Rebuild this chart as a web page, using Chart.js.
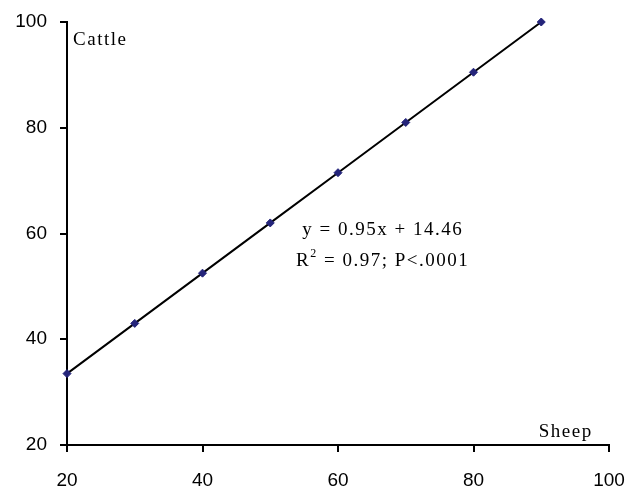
<!DOCTYPE html>
<html>
<head>
<meta charset="utf-8">
<script src="https://cdn.jsdelivr.net/npm/chart.js@4"></script>
<style>
  html, body { margin: 0; padding: 0; background: #ffffff; }
  #wrap { width: 627px; height: 489px; position: relative; }
</style>
</head>
<body>
<div id="wrap"><canvas id="c" width="627" height="489"></canvas></div>
<script>
// ---- data ----
const sheep  = [20, 30, 40, 50, 60, 70, 80, 90];
const cattle = [33.5, 43, 52.5, 62, 71.5, 81, 90.5, 100];
const xTicks = [20, 40, 60, 80, 100];
const yTicks = [20, 40, 60, 80, 100];
const xTitle = "Sheep";
const yTitle = "Cattle";
const eqLine1 = "y = 0.95x + 14.46";
const eqLine2a = "R";
const eqLine2sup = "2";
const eqLine2b = " = 0.97; P<.0001";
// anchors of the annotation texts, in data units
const yTitleAt = [20.9, 95.6];
const xTitleAt = [97.6, 21.6];
const eqAt1 = [66.6, 59.8];
const eqAt2 = [66.6, 53.8];

const points = sheep.map((x, i) => ({ x: x, y: cattle[i] }));

const annotate = {
  id: 'annotate',
  afterDatasetsDraw(chart) {
    const ctx = chart.ctx;
    const xs = chart.scales.x, ys = chart.scales.y;
    const big = '19px "Liberation Serif", "Times New Roman", serif';
    const small = '12px "Liberation Serif", "Times New Roman", serif';
    ctx.save();
    ctx.fillStyle = '#000';
    ctx.font = big;
    ctx.textBaseline = 'alphabetic';
    if ('letterSpacing' in ctx) ctx.letterSpacing = '1.5px';
    ctx.textAlign = 'left';
    ctx.fillText(yTitle, xs.getPixelForValue(yTitleAt[0]), ys.getPixelForValue(yTitleAt[1]));
    ctx.textAlign = 'right';
    ctx.fillText(xTitle, xs.getPixelForValue(xTitleAt[0]), ys.getPixelForValue(xTitleAt[1]));
    ctx.textAlign = 'center';
    ctx.fillText(eqLine1, xs.getPixelForValue(eqAt1[0]), ys.getPixelForValue(eqAt1[1]));
    const cx = xs.getPixelForValue(eqAt2[0]), by = ys.getPixelForValue(eqAt2[1]);
    ctx.textAlign = 'left';
    const wA = ctx.measureText(eqLine2a).width;
    const wB = ctx.measureText(eqLine2b).width;
    ctx.font = small;
    const wS = ctx.measureText(eqLine2sup).width;
    const x0 = cx - (wA + wS + wB) / 2;
    ctx.font = big;
    ctx.fillText(eqLine2a, x0, by);
    ctx.font = small;
    ctx.fillText(eqLine2sup, x0 + wA, by - 9);
    ctx.font = big;
    ctx.fillText(eqLine2b, x0 + wA + wS, by);
    ctx.restore();
  }
};

new Chart(document.getElementById('c'), {
  type: 'scatter',
  data: {
    datasets: [{
      data: points,
      showLine: true,
      borderColor: '#000000',
      borderWidth: 2,
      pointStyle: 'rectRot',
      pointRadius: 4,
      pointBackgroundColor: '#24247a',
      pointBorderColor: '#24247a',
      pointBorderWidth: 1,
      clip: false
    }]
  },
  options: {
    responsive: false,
    animation: false,
    layout: { padding: { left: 0, right: 18, top: 22, bottom: 0 } },
    plugins: { legend: { display: false }, tooltip: { enabled: false } },
    scales: {
      x: {
        type: 'linear',
        min: 20, max: 100,
        afterBuildTicks: (s) => { s.ticks = xTicks.map(v => ({ value: v })); },
        afterFit: (s) => { s.height = 44; s.paddingLeft = 0; s.paddingRight = 0; },
        border: { display: true, color: '#000', width: 2 },
        grid: { display: true, drawOnChartArea: false, drawTicks: true, tickLength: 7, color: '#000', lineWidth: 2 },
        ticks: { color: '#000', padding: 17, maxRotation: 0, font: { family: '"Liberation Sans", Arial, sans-serif', size: 19 } }
      },
      y: {
        type: 'linear',
        min: 20, max: 100,
        afterBuildTicks: (s) => { s.ticks = yTicks.map(v => ({ value: v })); },
        afterFit: (s) => { s.width = 67; s.paddingTop = 0; s.paddingBottom = 0; },
        border: { display: true, color: '#000', width: 2 },
        grid: { display: true, drawOnChartArea: false, drawTicks: true, tickLength: 7, color: '#000', lineWidth: 2 },
        ticks: { color: '#000', padding: 13, font: { family: '"Liberation Sans", Arial, sans-serif', size: 19 } }
      }
    }
  },
  plugins: [annotate]
});
</script>
</body>
</html>
